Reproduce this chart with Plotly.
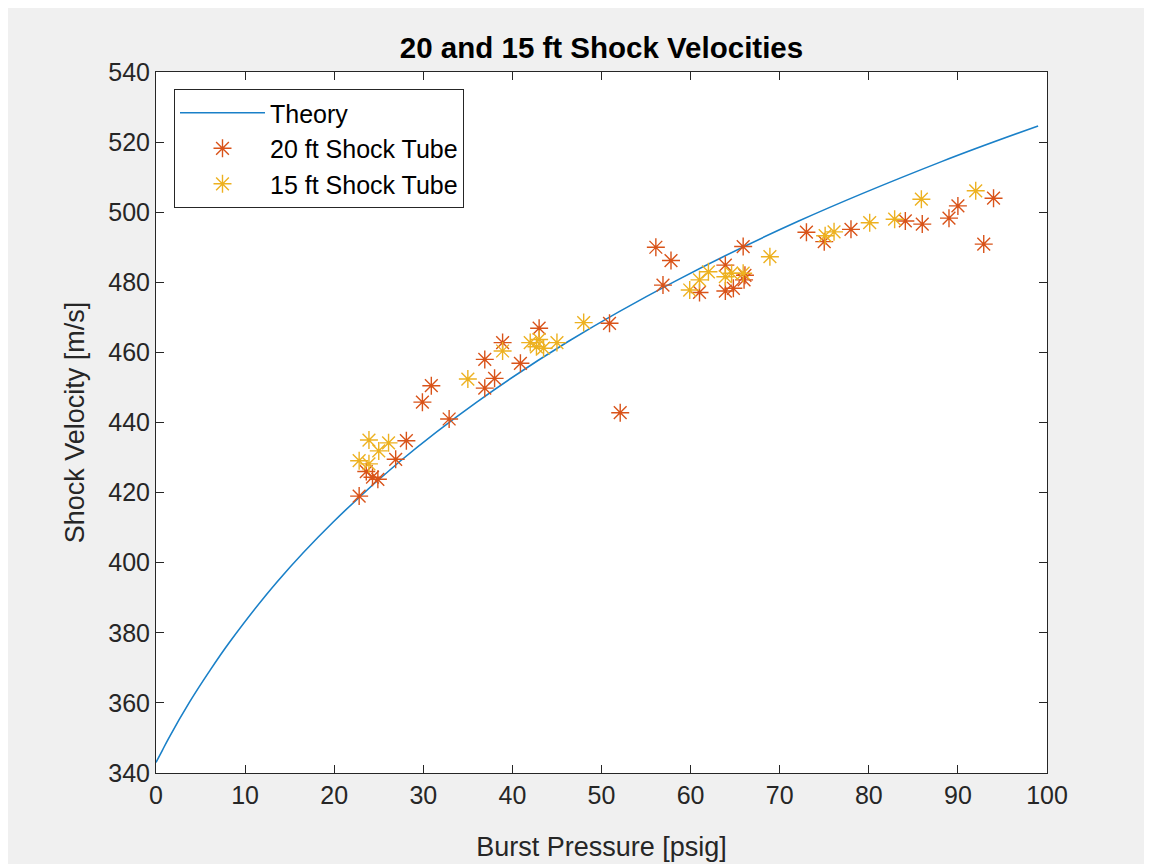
import plotly.graph_objects as go

# Theory curve
theory_x = [0, 0.70, 1.42, 3.76, 5.91, 8.25, 13.58, 19.89, 27.32, 36.04, 46.26, 58.18, 72.07, 88.23, 99.0]
theory_y = [343.0, 346.4, 349.9, 360.2, 368.7, 377.3, 394.5, 411.6, 428.8, 445.9, 463.1, 480.2, 497.4, 514.5, 524.6]

# 20 ft shock tube
t20_x = [22.8, 23.6, 24.3, 24.9, 26.9, 28.1, 29.9, 30.9, 32.9, 36.9, 36.9, 38.0, 38.9, 40.9, 43.0,
         50.9, 52.1, 56.1, 56.9, 57.8, 61.0, 63.9, 63.9, 64.8, 65.9, 66.0, 66.1,
         73.0, 75.0, 78.0, 84.1, 86.0, 89.0, 90.0, 92.9, 94.0]
t20_y = [419.0, 426.0, 424.4, 423.8, 429.5, 434.8, 445.8, 450.5, 441.0, 458.0, 449.8, 452.6, 462.8, 456.9, 466.9,
         468.3, 442.8, 490.0, 479.2, 486.2, 477.1, 484.9, 477.5, 478.3, 490.2, 480.7, 482.0,
         494.3, 491.6, 495.1, 497.5, 496.6, 498.3, 501.8, 490.9, 504.0]

# 15 ft shock tube
t15_x = [22.8, 23.9, 23.9, 25.0, 26.1, 35.0, 38.9, 42.0, 43.0, 42.7, 43.5, 45.0, 48.0,
         59.9, 61.0, 62.0, 63.9, 64.6, 65.9, 68.9, 75.1, 76.1, 80.1, 82.9, 85.9, 92.0]
t15_y = [429.1, 435.0, 428.2, 431.9, 434.2, 452.4, 460.4, 462.8, 463.7, 461.6, 461.2, 462.8, 468.5,
         477.8, 480.7, 483.0, 481.6, 482.6, 482.6, 487.3, 493.3, 494.4, 497.0, 498.0, 503.7, 506.1]

x_ticks = list(range(0, 101, 10))
y_ticks = list(range(340, 541, 20))

FONT = "Liberation Sans, Arial, Helvetica, sans-serif"
AXC = "#262626"
C_TH = "#1A80C8"
C_20 = "#D95319"
C_15 = "#EDB120"

fig = go.Figure()
fig.add_trace(go.Scatter(x=theory_x, y=theory_y, mode="lines", name="Theory",
                         line=dict(color=C_TH, width=1.6, shape="spline")))
fig.add_trace(go.Scatter(x=t20_x, y=t20_y, mode="markers", name="20 ft Shock Tube",
                         marker=dict(symbol="asterisk-open", size=15, color=C_20,
                                     line=dict(color=C_20, width=1.4))))
fig.add_trace(go.Scatter(x=t15_x, y=t15_y, mode="markers", name="15 ft Shock Tube",
                         marker=dict(symbol="asterisk-open", size=15, color=C_15,
                                     line=dict(color=C_15, width=1.4))))

axis_common = dict(showline=True, linecolor=AXC, linewidth=1, mirror="ticks",
                   ticks="inside", ticklen=8, tickcolor=AXC, tickwidth=1,
                   showgrid=False, zeroline=False,
                   tickfont=dict(family=FONT, size=25, color=AXC))

W, H = 1152, 864
fig.update_layout(
    width=W, height=H,
    paper_bgcolor="#F0F0F0", plot_bgcolor="white",
    margin=dict(l=148, r=113, t=64, b=99),
    title=dict(text="<b>20 and 15 ft Shock Velocities</b>", x=0.5, xanchor="center",
               xref="paper", y=1 - 40 / H, yanchor="middle",
               font=dict(family=FONT, size=29.5, color="black")),
    xaxis=dict(range=[0, 100], tickvals=x_ticks,
               title=dict(text="Burst Pressure [psig]", standoff=29,
                          font=dict(family=FONT, size=27, color=AXC)),
               **axis_common),
    yaxis=dict(range=[340, 540], tickvals=y_ticks,
               title=dict(text="Shock Velocity [m/s]", standoff=15,
                          font=dict(family=FONT, size=27, color=AXC)),
               **axis_common),
    legend=dict(x=0.0202, y=0.9757, xanchor="left", yanchor="top",
                bgcolor="white", bordercolor=AXC, borderwidth=1,
                itemwidth=85, tracegroupgap=0,
                font=dict(family=FONT, size=25, color="black")),
    showlegend=True,
)

fig.write_html("out.html")
